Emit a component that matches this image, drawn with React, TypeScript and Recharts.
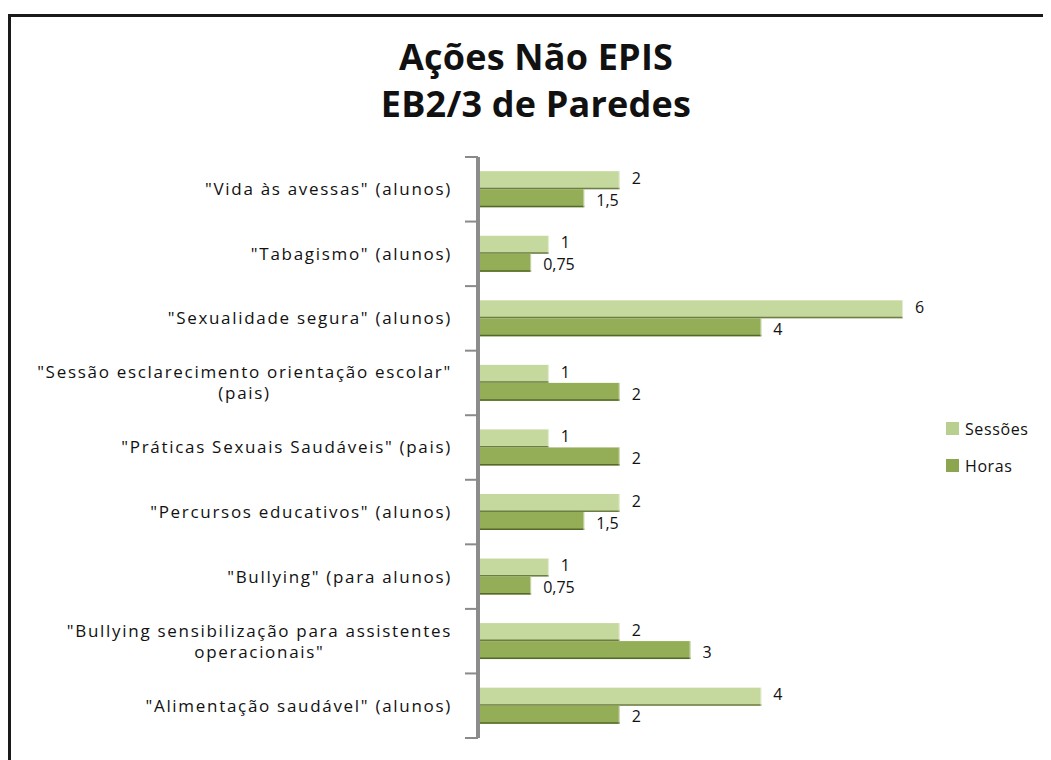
import React from 'react';
import { BarChart, Bar, XAxis, YAxis, Legend, LabelList } from 'recharts';

// categories from top to bottom, "\n" marks a line break in the axis label
const categories = [
  '"Vida às avessas" (alunos)',
  '"Tabagismo" (alunos)',
  '"Sexualidade segura" (alunos)',
  '"Sessão esclarecimento orientação escolar"\n(pais)',
  '"Práticas Sexuais Saudáveis" (pais)',
  '"Percursos educativos" (alunos)',
  '"Bullying" (para alunos)',
  '"Bullying sensibilização para assistentes\noperacionais"',
  '"Alimentação saudável" (alunos)',
];
const sessoes = [2, 1, 6, 1, 1, 2, 1, 2, 4];
const horas = [1.5, 0.75, 4, 2, 2, 1.5, 0.75, 3, 2];

const data = categories.map((name, i) => ({ name, sessoes: sessoes[i], horas: horas[i] }));

const FONT = '"Open Sans", "Noto Sans", sans-serif';
const LIGHT = '#C5D89E';
const DARK = '#93AE57';
const TICK_SIZE = 17;
const TICK_SPACING = 1.7;

let measureCtx: CanvasRenderingContext2D | null = null;
function textWidth(s: string) {
  if (!measureCtx) measureCtx = document.createElement('canvas').getContext('2d');
  if (!measureCtx) return s.length * 9;
  measureCtx.font = `${TICK_SIZE}px ${FONT}`;
  return measureCtx.measureText(s).width + s.length * TICK_SPACING;
}

// category tick: label text plus the tick mark at the band boundary (Excel style)
const CategoryTick = (props: any) => {
  const { x, y, payload, index, visibleTicksCount } = props;
  const half = payload.offset || 32;
  const lines = String(payload.value).split('\n');
  const right = x - 26;
  const lineH = 21;
  const w = Math.max(...lines.map((l) => textWidth(l)));
  const startY = y - ((lines.length - 1) * lineH) / 2;
  return (
    <g>
      <line x1={x - 13} x2={x} y1={y - half} y2={y - half} stroke="#8a8a8a" strokeWidth={2} />
      {index === visibleTicksCount - 1 && (
        <line x1={x - 13} x2={x} y1={y + half} y2={y + half} stroke="#8a8a8a" strokeWidth={2} />
      )}
      {lines.map((l, i) => (
        <text
          key={i}
          x={lines.length > 1 ? right - w / 2 : right}
          y={startY + i * lineH}
          dy="0.35em"
          textAnchor={lines.length > 1 ? 'middle' : 'end'}
          fontFamily={FONT}
          fontSize={TICK_SIZE}
          letterSpacing={TICK_SPACING}
          fill="#111"
        >
          {l}
        </text>
      ))}
    </g>
  );
};

const BarShape = (props: any) => {
  const { x, y, width, height, fill, edge } = props;
  if (!width || width <= 0) return null;
  return (
    <g>
      <rect x={x} y={y} width={width} height={height} fill={fill} />
      <line x1={x} x2={x + width} y1={y + height - 0.75} y2={y + height - 0.75} stroke={edge} strokeWidth={1.5} />
      <line x1={x + width - 0.5} x2={x + width - 0.5} y1={y} y2={y + height} stroke="#ffffff" strokeOpacity={0.5} />
    </g>
  );
};

const fmt = (v: any) => String(v).replace('.', ',');

const LegendContent = () => (
  <div style={{ fontFamily: FONT, fontSize: 16, color: '#111', letterSpacing: 0.6 }}>
    {[
      { label: 'Sessões', color: '#B9CF90' },
      { label: 'Horas', color: '#8CA650' },
    ].map((it) => (
      <div key={it.label} style={{ display: 'flex', alignItems: 'center', height: 37 }}>
        <span style={{ display: 'inline-block', width: 13, height: 13, background: it.color, marginRight: 6 }} />
        {it.label}
      </div>
    ))}
  </div>
);

export default function App() {
  return (
    <div style={{ position: 'relative', width: 1043, height: 752, background: '#fff', overflow: 'hidden' }}>
      <div
        style={{
          position: 'absolute',
          left: 0,
          top: 6,
          width: 1060,
          height: 760,
          borderTop: '3px solid #1a1a1a',
          borderLeft: '3px solid #1a1a1a',
          boxSizing: 'border-box',
        }}
      />
      <div
        style={{
          position: 'absolute',
          left: 0,
          width: 1056,
          top: 25,
          textAlign: 'center',
          fontFamily: FONT,
          fontWeight: 700,
          fontSize: 36,
          lineHeight: '47px',
          color: '#111',
          letterSpacing: 0.2,
        }}
      >
        <div>Ações Não EPIS</div>
        <div>EB2/3 de Paredes</div>
      </div>
      <div style={{ position: 'absolute', left: 0, top: 0 }}>
        <BarChart
          width={1043}
          height={752}
          data={data}
          layout="vertical"
          margin={{ top: 149, right: 148, bottom: 22, left: 0 }}
          barCategoryGap="22%"
          barGap={0}
        >
          <XAxis type="number" domain={[0, 6]} hide />
          <YAxis
            type="category"
            dataKey="name"
            width={470}
            axisLine={{ stroke: '#8c8c8c', strokeWidth: 4 }}
            tickLine={false}
            tickSize={0}
            tickMargin={0}
            interval={0}
            tick={<CategoryTick />}
          />
          <Legend
            layout="vertical"
            align="center"
            verticalAlign="middle"
            wrapperStyle={{ left: 938, top: 402, width: 110 }}
            content={<LegendContent />}
          />
          <Bar dataKey="sessoes" name="Sessões" fill={LIGHT} isAnimationActive={false} shape={<BarShape edge="#6d7d45" />}>
            <LabelList dataKey="sessoes" position="right" offset={12} formatter={fmt} fill="#111" fontFamily={FONT} fontSize={16} dy={-2} />
          </Bar>
          <Bar dataKey="horas" name="Horas" fill={DARK} isAnimationActive={false} shape={<BarShape edge="#55682a" />}>
            <LabelList dataKey="horas" position="right" offset={12} formatter={fmt} fill="#111" fontFamily={FONT} fontSize={16} dy={2} />
          </Bar>
        </BarChart>
      </div>
    </div>
  );
}
